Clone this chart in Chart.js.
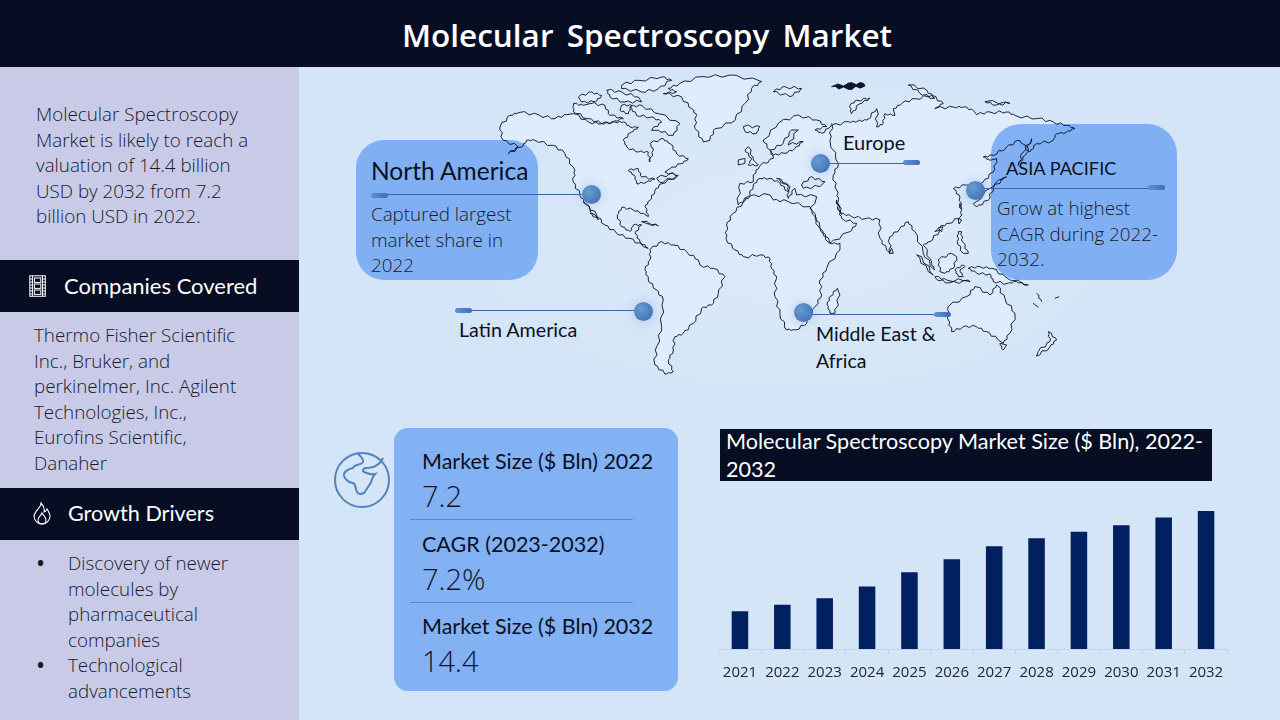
<!DOCTYPE html>
<html>
<head>
<meta charset="utf-8">
<title>Molecular Spectroscopy Market</title>
<script src="https://cdn.jsdelivr.net/npm/chart.js@4"></script>
<style>
  html, body { margin: 0; padding: 0; }
  body { width: 1280px; height: 720px; overflow: hidden; position: relative; background: #d3e5f6; font-family: "Open Sans", sans-serif; color: #171a2a; }
  .abs { position: absolute; }
  .band { position: absolute; background: #070d22; }
  .box { position: absolute; background: rgba(116, 168, 243, .88); z-index: 2; }
  .t { position: absolute; white-space: nowrap; z-index: 5; }
  .body { font-weight: 300; font-size: 18.8px; line-height: 25.5px; }
  .head { font-family: Lato, sans-serif; font-size: 21.5px; color: #0c1020; }
  .big { font-weight: 300; font-size: 29px; color: #11152a; }
  .white { color: #fff; }
  .rule { position: absolute; left: 410px; width: 223px; height: 1px; background: #5f83c8; z-index: 5; }
  .lead { position: absolute; height: 1.4px; background: #3f62a8; z-index: 4; }
  .pill { position: absolute; width: 17px; height: 5px; border-radius: 3px; background: linear-gradient(90deg, #5d93cf, #3f6eb5); z-index: 4; }
  .dot { position: absolute; width: 19px; height: 19px; border-radius: 50%; z-index: 4;
         background: radial-gradient(circle at 35% 35%, #659bd2, #3d69b0); box-shadow: 0 0 12px rgba(90, 130, 200, .35); }
  #map-fill, #map-line { position: absolute; left: 0; top: 0; }
  #map-fill { z-index: 1; }
  #map-line { z-index: 3; }
  #chart-wrap { position: absolute; left: 714px; top: 511px; width: 518px; height: 178px; z-index: 5; }
</style>
</head>
<body>

<!-- soft glow behind the map -->
<div class="abs" style="left:450px;top:70px;width:680px;height:330px;background:radial-gradient(ellipse at center,#dcebfb 0%,#d3e5f6 72%);"></div>

<!-- header -->
<div class="band" style="left:0;top:0;width:1280px;height:67px;"></div>
<div class="t white" style="left:402px;top:13px;font-size:31.5px;font-weight:600;word-spacing:5px;">Molecular Spectroscopy Market</div>

<!-- left panel -->
<div class="abs" style="left:0;top:67px;width:299px;height:653px;background:#c8cae8;"></div>
<div class="t body" style="left:36px;top:102px;">Molecular Spectroscopy<br>Market is likely to reach a<br>valuation of 14.4 billion<br>USD by 2032 from 7.2<br>billion USD in 2022.</div>

<div class="band" style="left:0;top:260px;width:299px;height:52px;"></div>
<svg class="abs" style="left:29px;top:275px;z-index:5;" width="18" height="23" viewBox="0 0 18 23" fill="none" stroke="#fff" stroke-width="1">
  <rect x=".8" y=".8" width="15.5" height="20.5"/>
  <path d="M3.6 1v20M13.5 1v20M1 4h2.6M1 7h2.6M1 10h2.6M1 13h2.6M1 16h2.6M1 19h2.6M13.5 4h3M13.5 7h3M13.5 10h3M13.5 13h3M13.5 16h3M13.5 19h3"/>
  <rect x="5.4" y="3" width="6.4" height="4.4"/><rect x="5.4" y="9" width="6.4" height="4.4"/><rect x="5.4" y="15" width="6.4" height="4.4"/>
</svg>
<div class="t white" style="left:64px;top:272px;font-family:Lato,sans-serif;font-size:22px;">Companies Covered</div>
<div class="t body" style="left:34px;top:323px;">Thermo Fisher Scientific<br>Inc., Bruker, and<br>perkinelmer, Inc. Agilent<br>Technologies, Inc.,<br>Eurofins Scientific,<br>Danaher</div>

<div class="band" style="left:0;top:488px;width:299px;height:52px;"></div>
<svg class="abs" style="left:32px;top:502px;z-index:5;" width="20" height="24" viewBox="0 0 20 24" fill="none" stroke="#fff" stroke-width="1.1">
  <path d="M9 1c1 4-6 7-7 13 0 5 4 8 8 8s8-3 8-8c0-3-2-5-3-7-1 2-2 3-3 3 1-4-1-7-3-9z"/>
  <path d="M10 22c-3 0-4-2-4-4 0-3 3-4 4-7 1 2 4 4 4 7 0 2-1 4-4 4z"/>
</svg>
<div class="t white" style="left:68px;top:500px;font-family:Lato,sans-serif;font-size:21.6px;">Growth Drivers</div>
<div class="t" style="left:37px;top:551px;font-size:18.8px;font-weight:700;line-height:25.5px;">•<br><br><br><br>•</div>
<div class="t body" style="left:68px;top:551px;">Discovery of newer<br>molecules by<br>pharmaceutical<br>companies<br>Technological<br>advancements</div>

<!-- region call-outs -->
<div class="box" style="left:356px;top:140px;width:182px;height:140px;border-radius:28px;"></div>
<div class="box" style="left:991px;top:124px;width:186px;height:156px;border-radius:30px;"></div>

<div class="t head" style="left:371px;top:156px;font-size:24.5px;">North America</div>
<div class="t body" style="left:371px;top:202px;">Captured largest<br>market share in<br>2022</div>
<div class="t head" style="left:459px;top:318px;font-size:19.7px;">Latin America</div>
<div class="t head" style="left:843px;top:130px;font-size:20px;">Europe</div>
<div class="t head" style="left:1006px;top:157px;font-size:18.2px;">ASIA PACIFIC</div>
<div class="t body" style="left:997px;top:196px;">Grow at highest<br>CAGR during 2022-<br>2032.</div>
<div class="t head" style="left:816px;top:320px;font-size:19.5px;line-height:27px;">Middle East &amp;<br>Africa</div>

<div class="lead" style="left:372px;top:194px;width:219px;"></div>
<div class="pill" style="left:371px;top:193px;"></div>
<div class="dot" style="left:582px;top:185px;"></div>
<div class="lead" style="left:456px;top:310px;width:187px;"></div>
<div class="pill" style="left:455px;top:308px;"></div>
<div class="dot" style="left:634px;top:302px;"></div>
<div class="lead" style="left:820px;top:163px;width:100px;"></div>
<div class="pill" style="left:903px;top:160px;"></div>
<div class="dot" style="left:811px;top:154px;"></div>
<div class="lead" style="left:975px;top:188px;width:190px;"></div>
<div class="pill" style="left:1148px;top:185px;"></div>
<div class="dot" style="left:966px;top:181px;"></div>
<div class="lead" style="left:803px;top:314px;width:147px;"></div>
<div class="pill" style="left:934px;top:312px;"></div>
<div class="dot" style="left:794px;top:303px;"></div>

<!-- key figures -->
<svg class="abs" style="left:332px;top:450px;" width="60" height="60" viewBox="0 0 60 60" fill="none" stroke="#5283bb" stroke-width="2">
  <circle cx="30" cy="30" r="27"/>
  <path d="M25 3c3 3 7 5 6 9-1 3-9 2-10 6-5 1-10 4-9 8 1 3 5 7 9 7 3 1 2 5 4 9 2 3 4 2 7 1 2-3 4-6 6-9 2-3 2-7 5-10-5 1-8-1-11-2-2-1-1-3 1-4 3 0 8 0 12-3 4-2 5-5 6-7"/>
</svg>
<div class="abs" style="left:394px;top:428px;width:284px;height:263px;border-radius:14px;background:#82b1f4;"></div>
<div class="t head" style="left:422px;top:448px;">Market Size ($ Bln) 2022</div>
<div class="t big" style="left:422px;top:476px;">7.2</div>
<div class="rule" style="top:519px;"></div>
<div class="t head" style="left:422px;top:531px;">CAGR (2023-2032)</div>
<div class="t big" style="left:422px;top:559px;">7.2%</div>
<div class="rule" style="top:602px;"></div>
<div class="t head" style="left:422px;top:613px;">Market Size ($ Bln) 2032</div>
<div class="t big" style="left:422px;top:641px;">14.4</div>

<!-- chart -->
<div class="band" style="left:720px;top:429px;width:492px;height:52px;"></div>
<div class="t white" style="left:726px;top:427px;font-family:Lato,sans-serif;font-size:21.6px;line-height:28px;">Molecular Spectroscopy Market Size ($ Bln), 2022-<br>2032</div>
<div id="chart-wrap"><canvas id="market-chart"></canvas></div>

<script>
// Chart data (2022 = 7.2 and 2032 = 14.4 are printed)
const years = ['2021', '2022', '2023', '2024', '2025', '2026', '2027', '2028', '2029', '2030', '2031', '2032'];
const marketSize = [6.7, 7.2, 7.7, 8.6, 9.7, 10.7, 11.7, 12.3, 12.8, 13.3, 13.9, 14.4];

// The value axis is hidden and does not start at zero in the original
const axisMin = 3.8;
const axisMax = 14.4;

new Chart(document.getElementById('market-chart'), {
    type: 'bar',
    data: {
        labels: years,
        datasets: [{
            data: marketSize,
            backgroundColor: '#002060',
            barPercentage: 0.39,
            categoryPercentage: 1
        }]
    },
    options: {
        responsive: true,
        maintainAspectRatio: false,
        animation: false,
        plugins: {
            legend: { display: false },
            tooltip: { enabled: false }
        },
        scales: {
            x: {
                afterFit: scale => { scale.height = 40; },
                grid: { drawOnChartArea: false, color: '#c6d3e4', tickLength: 6 },
                border: { color: '#c6d3e4' },
                ticks: { color: '#23262f', font: { family: 'Open Sans', size: 15 }, maxRotation: 0, autoSkip: false, padding: 9 }
            },
            y: { display: false, min: axisMin, max: axisMax }
        }
    }
});

// World map outline, traced by hand as decoration, not data. Units are a third of a page pixel.
const landShapes = [
    // north america
    '480,171 510,136 535,128 595,134 645,146 680,134 700,131 745,156 785,161 825,156 850,156 870,171 895,171 875,186 850,211 860,231 895,246 925,246 930,276 940,241 930,221 970,206 990,221 1010,251 1045,266 1025,281 990,296 975,306 1015,316 965,341 945,361 930,391 915,410 925,440 910,430 880,420 845,412 832,435 845,470 870,485 880,465 905,465 885,490 900,515 925,535 910,530 870,505 830,490 795,465 770,435 740,405 720,376 700,336 705,301 700,291 675,251 640,226 585,211 560,211 545,231 505,251 535,231 490,211',
    // south america
    '930,540 965,515 1000,525 1040,545 1075,570 1080,585 1120,595 1155,620 1135,670 1115,705 1085,715 1060,760 1030,790 1005,800 1000,840 985,870 1000,905 975,912 945,885 950,830 965,770 970,690 950,660 925,630 915,600 930,570',
    // greenland
    '970,71 1025,81 1055,116 1070,136 1065,176 1090,216 1110,211 1125,176 1185,151 1215,100 1235,55 1265,35 1170,15 1090,20 1020,40 985,55 1010,65',
    // canadian arctic
    '700,101 730,106 750,101 795,106 810,136 850,146 820,156 785,161 745,146 700,124',
    '845,46 895,31 965,21 995,31 955,56 905,66 845,56',
    '715,81 755,66 785,76 765,96 725,96',
    '800,61 845,66 895,81 905,96 855,96 810,81',
    '870,111 905,106 955,131 1020,161 1000,196 955,181 935,181 965,156 935,141 890,136',
    '845,106 875,106 865,131 840,121',
    // cuba
    '905,455 955,468 925,462',
    // eurasia
    '1195,405 1200,340 1240,335 1240,315 1258,290 1300,265 1290,240 1270,210 1315,160 1375,135 1430,150 1460,170 1425,180 1445,190 1470,170 1525,155 1550,155 1580,150 1610,116 1610,171 1630,161 1635,131 1665,136 1660,116 1685,101 1725,86 1775,76 1810,101 1785,116 1840,111 1870,111 1900,121 1910,134 1950,126 2000,126 2025,136 2090,146 2140,156 2180,166 2205,176 2180,186 2150,191 2140,211 2090,221 2070,246 2040,211 2000,231 1960,256 1930,261 1950,271 1970,266 1960,306 1930,336 1880,345 1840,356 1860,381 1865,416 1860,400 1865,435 1830,460 1800,470 1785,485 1800,480 1770,515 1750,525 1775,580 1785,600 1750,550 1725,485 1705,455 1680,475 1650,500 1650,550 1640,540 1620,505 1620,450 1580,445 1535,440 1505,430 1490,390 1495,420 1505,445 1550,460 1530,485 1470,520 1440,475 1420,425 1410,415 1425,400 1430,380 1370,375 1365,355 1345,385 1345,350 1310,325 1350,350 1345,365 1320,340 1290,325 1260,325 1240,345 1225,380',
    // africa
    '1210,395 1180,430 1160,465 1158,505 1185,540 1210,560 1260,555 1290,565 1295,595 1310,625 1305,680 1320,730 1340,780 1365,780 1400,760 1425,710 1445,675 1440,630 1460,595 1500,540 1500,520 1470,520 1440,475 1415,420 1410,410 1345,395 1300,390 1290,375 1230,378',
    // madagascar, britain, ireland, iceland, svalbard, novaya zemlya, arctic islands
    '1492,655 1500,675 1485,730 1470,730 1462,705 1470,680', '1225,230 1240,270 1255,285 1225,285 1235,265 1215,240',
    '1195,270 1215,265 1215,280 1195,285', '1210,170 1260,170 1250,190 1215,185', '1300,65 1335,50 1385,55 1350,80',
    '1530,106 1550,91 1590,84 1560,101 1535,131', '1705,45 1760,60 1785,85 1740,70', '1935,95 2010,100 1970,105',
    // japan, sakhalin, taiwan, hainan, philippines, indonesia, new guinea
    '1970,336 2000,321 1960,351 1945,391 1910,411 1900,401', '2075,206 2050,246 2035,286 2055,256',
    '1855,445 1865,450 1857,462', '1795,475 1808,470 1805,485',
    '1855,485 1865,485 1867,515 1885,550 1870,550 1852,515',
    '1795,570 1835,550 1850,560 1840,595 1815,610 1800,605',
    '1730,555 1745,560 1780,615 1765,605', '1785,620 1820,630 1885,630 1890,635 1830,638 1790,628',
    '1845,600 1870,585 1875,590 1860,600 1870,620 1855,620',
    '1885,595 1920,590 1955,595 1995,620 2065,645 2030,635 2005,640 1960,635 1950,612 1910,610',
    // australia, tasmania, new zealand, sri lanka
    '1825,710 1880,680 1905,650 1950,675 1970,645 1995,685 2025,730 2010,790 1990,820 1975,810 1940,785 1910,770 1870,770 1835,785 1825,750',
    '1980,820 2000,825 1990,840', '2125,785 2150,810 2130,830 2090,858 2095,845 2130,815',
    '1655,535 1660,550 1648,550'
];
// lakes and inland seas are painted back in the water colour
const waterShapes = [
    '865,301 895,296 905,321 945,328 920,336 890,341 883,316', '950,325 1000,310 1010,318 960,338',
    '1355,180 1375,180 1345,225 1390,215 1365,235 1335,250 1300,255 1290,240 1330,220',
    '1385,345 1415,320 1455,335 1440,350 1390,355'
];
// very small islands that read as solid black in the picture
const darkShapes = ['1475,50 1540,40 1575,45 1525,58', '1520,44 1570,40 1575,48 1530,52'];
// open lines: Baja California, Solomon islands and the line between Europe and Asia
const openLines = [
    '730,395 775,450 750,430', '2090,670 2105,695', '2080,700 2095,712', '2145,685 2158,680',
    '1475,160 1470,210 1495,280 1480,315 1490,360 1495,390 1505,435'
];

// long straight edges get a small fixed kink so the coast does not look cut with a ruler
function roughen(pts, closed) {
    const p = pts.split(' ').map(s => s.split(',').map(Number));
    const out = [];
    const last = closed ? p.length : p.length - 1;
    for (let i = 0; i < last; i++) {
        const a = p[i], b = p[(i + 1) % p.length];
        out.push(a);
        const dx = b[0] - a[0], dy = b[1] - a[1], len = Math.hypot(dx, dy);
        if (len > 22) {
            const nx = -dy / len, ny = dx / len;
            const k = (i % 2 ? 1 : -1) * Math.min(5, len * 0.1);
            out.push([a[0] + dx * .3 + nx * k, a[1] + dy * .3 + ny * k]);
            out.push([a[0] + dx * .55 - nx * k * .7, a[1] + dy * .55 - ny * k * .7]);
            out.push([a[0] + dx * .8 + nx * k * .6, a[1] + dy * .8 + ny * k * .6]);
        }
    }
    if (!closed) out.push(p[p.length - 1]);
    return out.map(q => q[0].toFixed(1) + ',' + q[1].toFixed(1)).join(' ');
}

function buildMap(id, isFill) {
    const svgNS = 'http://www.w3.org/2000/svg';
    const svg = document.createElementNS(svgNS, 'svg');
    svg.setAttribute('id', id);
    svg.setAttribute('width', 1280);
    svg.setAttribute('height', 720);
    const g = document.createElementNS(svgNS, 'g');
    g.setAttribute('transform', 'translate(340 70) scale(0.3333)');
    svg.appendChild(g);

    function add(tag, pts, fill, stroke) {
        const el = document.createElementNS(svgNS, tag);
        el.setAttribute('points', roughen(pts, tag === 'polygon'));
        el.setAttribute('fill', fill);
        el.setAttribute('stroke', stroke);
        el.setAttribute('stroke-width', 2.8);
        el.setAttribute('stroke-linejoin', 'round');
        g.appendChild(el);
    }

    landShapes.forEach(p => add('polygon', p, isFill ? '#dfecfb' : 'none', isFill ? 'none' : '#0c1630'));
    waterShapes.forEach(p => add('polygon', p, isFill ? '#d3e5f6' : 'none', isFill ? 'none' : '#0c1630'));
    if (!isFill) {
        darkShapes.forEach(p => add('polygon', p, '#0c1630', '#0c1630'));
        openLines.forEach(p => add('polyline', p, 'none', '#0c1630'));
    }
    document.body.appendChild(svg);
}

buildMap('map-fill', true);
buildMap('map-line', false);
</script>
</body>
</html>
